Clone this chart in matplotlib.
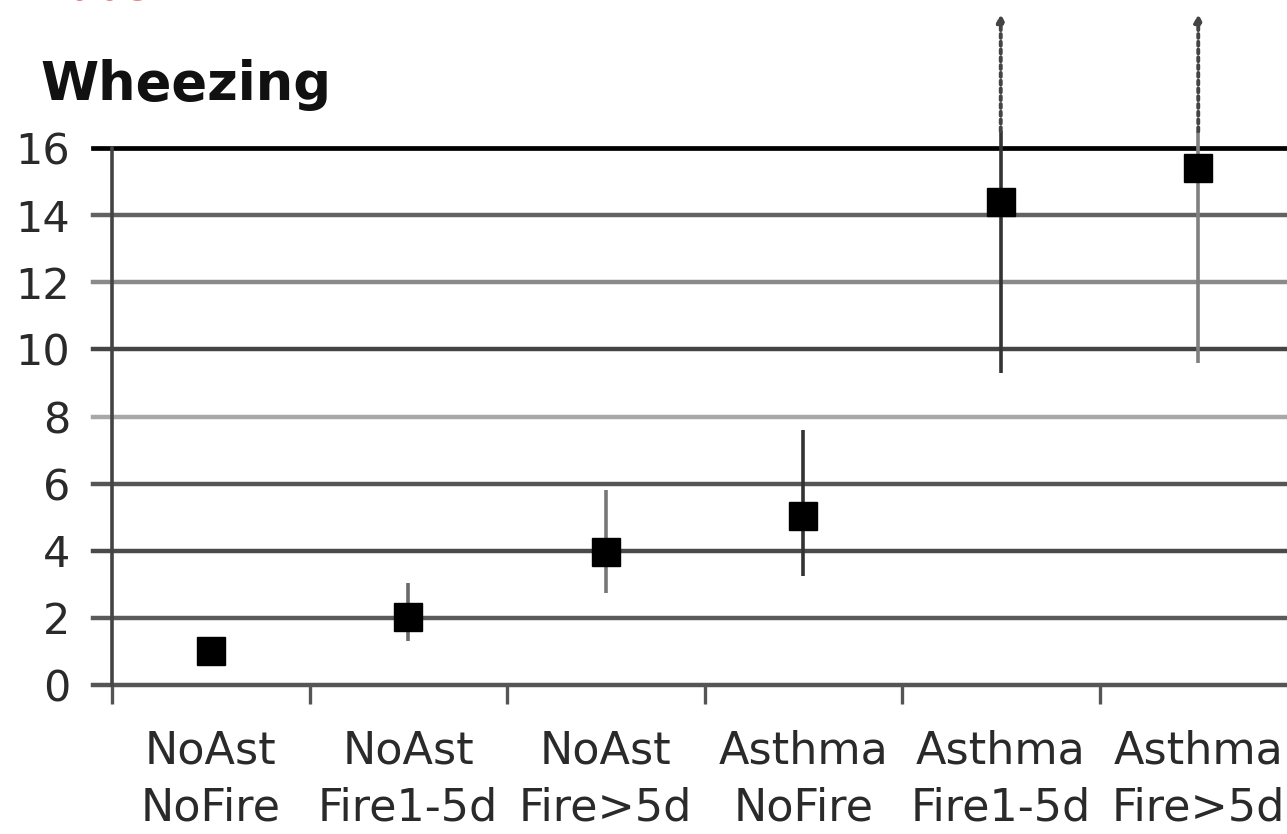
import numpy as np
import matplotlib.pyplot as plt

# chart data
categories = ["NoAst\nNoFire", "NoAst\nFire1-5d", "NoAst\nFire>5d",
              "Asthma\nNoFire", "Asthma\nFire1-5d", "Asthma\nFire>5d"]
odds = [1.0, 2.02, 3.95, 5.05, 14.4, 15.4]
ci_low = [1.0, 1.3, 2.75, 3.25, 9.3, 9.6]
ci_high = [1.0, 3.05, 5.8, 7.6, 16.5, 16.5]
ci_open = [False, False, False, False, True, True]   # CI runs off the chart
y_ticks = [0, 2, 4, 6, 8, 10, 12, 14, 16]

# styles
grid_colors = ['#555555', '#5a5a5a', '#4a4a4a', '#555555', '#a8a8a8',
               '#444444', '#8a8a8a', '#626262', '#000000']
bar_colors = ['#444444', '#6a6a6a', '#777777', '#333333', '#333333', '#808080']
W, H = 1287, 834

plt.rcParams['font.family'] = ['DejaVu Sans']
fig = plt.figure(figsize=(W / 100, H / 100), dpi=100)
left, right, top, bottom = 112, 1297, 148, 685
ax = fig.add_axes([left / W, 1 - bottom / H, (right - left) / W, (bottom - top) / H])

x = np.arange(len(categories))
ax.set_xlim(-0.5, len(categories) - 0.5)
ax.set_ylim(0, 16)

# horizontal grid lines, running a bit past the y axis like tick marks
ext = (left - 93) / (right - left)
for yv, c in zip(y_ticks, grid_colors):
    ax.axhline(yv, xmin=-ext, xmax=1, color=c, lw=3.2 if yv < 16 else 3.4,
               clip_on=False, zorder=1)

# error bars
for xi, lo, hi, op, c in zip(x, ci_low, ci_high, ci_open, bar_colors):
    if hi > lo:
        ax.plot([xi, xi], [lo, hi], color=c, lw=2.6, solid_capstyle='butt',
                clip_on=False, zorder=2)
    if op:
        ax.annotate('', xy=(xi, 20.0), xytext=(xi, hi),
                    arrowprops=dict(arrowstyle='-|>', linestyle=(0, (1, 1)),
                                    color='#444444', lw=2.8, mutation_scale=11,
                                    shrinkA=0, shrinkB=0),
                    annotation_clip=False, zorder=2)

ax.plot(x, odds, 's', color='black', markersize=20, zorder=3, clip_on=False)

# spines and ticks
for s in ['top', 'right', 'bottom']:
    ax.spines[s].set_visible(False)
ax.spines['left'].set_color('#444444')
ax.spines['left'].set_linewidth(2.6)
ax.spines['left'].set_zorder(2)

ax.set_yticks(y_ticks)
ax.tick_params(axis='y', length=0, pad=30, labelsize=31, labelcolor='#2a2a2a')
ax.set_xticks(x)
ax.set_xticklabels(categories, linespacing=1.4)
ax.tick_params(axis='x', which='major', length=0, pad=32, labelsize=32,
               labelcolor='#2a2a2a')
ax.set_xticks(np.arange(len(categories) + 1) - 0.5, minor=True)
ax.tick_params(axis='x', which='minor', length=14, width=2.4, color='#555555',
               direction='out')

fig.text(40 / W, 1 - 100 / H, "Wheezing", fontsize=38, fontweight='bold',
         color='#111111', ha='left', va='baseline')
# red heading above, mostly cut off by the top edge
fig.text(0 / W, 1 - 0.5 / H, "r 2003", fontsize=34, color='#cc0000',
         ha='left', va='baseline')

plt.savefig("out.png", dpi=100)
